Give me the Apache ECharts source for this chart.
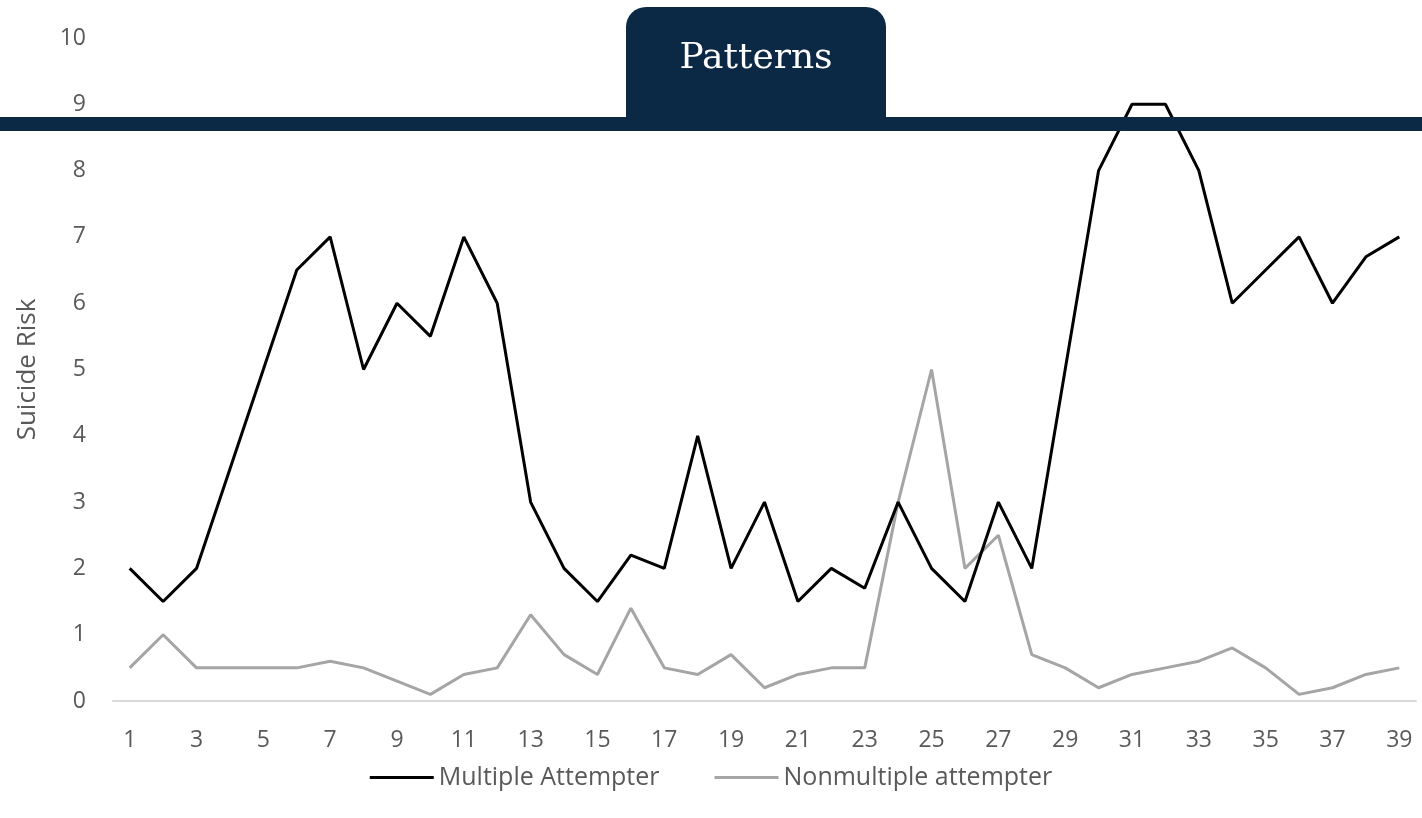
<!DOCTYPE html>
<html>
<head>
<meta charset="utf-8">
<script src="https://cdn.jsdelivr.net/npm/echarts@6/dist/echarts.min.js"></script>
<style>
  html, body { margin: 0; padding: 0; background: #fff; }
  #chart { width: 1422px; height: 818px; }
</style>
</head>
<body>
<div id="chart"></div>
<script>
const categories = [];
for (let i = 1; i <= 39; i++) categories.push(String(i));

const multipleAttempter = [
  2, 1.5, 2, 3.5, 5, 6.5, 7, 5, 6, 5.5,
  7, 6, 3, 2, 1.5, 2.2, 2, 4, 2, 3,
  1.5, 2, 1.7, 3, 2, 1.5, 3, 2, 5, 8,
  9, 9, 8, 6, 6.5, 7, 6, 6.7, 7
];
const nonmultipleAttempter = [
  0.5, 1, 0.5, 0.5, 0.5, 0.5, 0.6, 0.5, 0.3, 0.1,
  0.4, 0.5, 1.3, 0.7, 0.4, 1.4, 0.5, 0.4, 0.7, 0.2,
  0.4, 0.5, 0.5, 3, 5, 2, 2.5, 0.7, 0.5, 0.2,
  0.4, 0.5, 0.6, 0.8, 0.5, 0.1, 0.2, 0.4, 0.5
];

const navy = '#0B2844';
const textGrey = '#595959';
const font = '"Open Sans", "Noto Sans", sans-serif';

const chart = echarts.init(document.getElementById('chart'));
chart.setOption({
  animation: false,
  textStyle: { fontFamily: font },
  grid: { left: 113, right: 6, top: 38, bottom: 117 },
  xAxis: {
    type: 'category',
    data: categories,
    boundaryGap: true,
    axisLine: { lineStyle: { color: '#D9D9D9', width: 2 } },
    axisTick: { show: false },
    axisLabel: {
      interval: 1,
      color: textGrey,
      fontSize: 23,
      margin: 28,
      fontFamily: font
    }
  },
  yAxis: {
    type: 'value',
    min: 0,
    max: 10,
    interval: 1,
    name: 'Suicide Risk',
    nameLocation: 'middle',
    nameGap: 72,
    nameTextStyle: { color: textGrey, fontSize: 26, fontFamily: font },
    splitLine: { show: false },
    axisLine: { show: false },
    axisTick: { show: false },
    axisLabel: { color: textGrey, fontSize: 23, margin: 27, fontFamily: font }
  },
  legend: {
    top: 760,
    left: 'center',
    itemWidth: 64,
    itemHeight: 3,
    itemGap: 55,
    icon: 'rect',
    textStyle: { color: textGrey, fontSize: 25, fontFamily: font },
    data: ['Multiple Attempter', 'Nonmultiple attempter']
  },
  series: [
    {
      name: 'Multiple Attempter',
      type: 'line',
      data: multipleAttempter,
      symbol: 'none',
      lineStyle: { color: '#000000', width: 3 },
      itemStyle: { color: '#000000' },
      z: 3
    },
    {
      name: 'Nonmultiple attempter',
      type: 'line',
      data: nonmultipleAttempter,
      symbol: 'none',
      lineStyle: { color: '#A5A5A5', width: 3 },
      itemStyle: { color: '#A5A5A5' },
      z: 2
    }
  ],
  graphic: [
    {
      type: 'rect',
      z: 100,
      shape: { x: 0, y: 117, width: 1422, height: 14 },
      style: { fill: navy }
    },
    {
      type: 'rect',
      z: 100,
      shape: { x: 626, y: 7, width: 260, height: 115, r: [20, 20, 0, 0] },
      style: { fill: navy }
    },
    {
      type: 'text',
      z: 101,
      x: 756,
      y: 59,
      style: {
        text: 'Patterns',
        fill: '#ffffff',
        font: '36px "DejaVu Serif", "Liberation Serif", serif',
        textAlign: 'center',
        textVerticalAlign: 'middle'
      }
    }
  ]
});
</script>
</body>
</html>
